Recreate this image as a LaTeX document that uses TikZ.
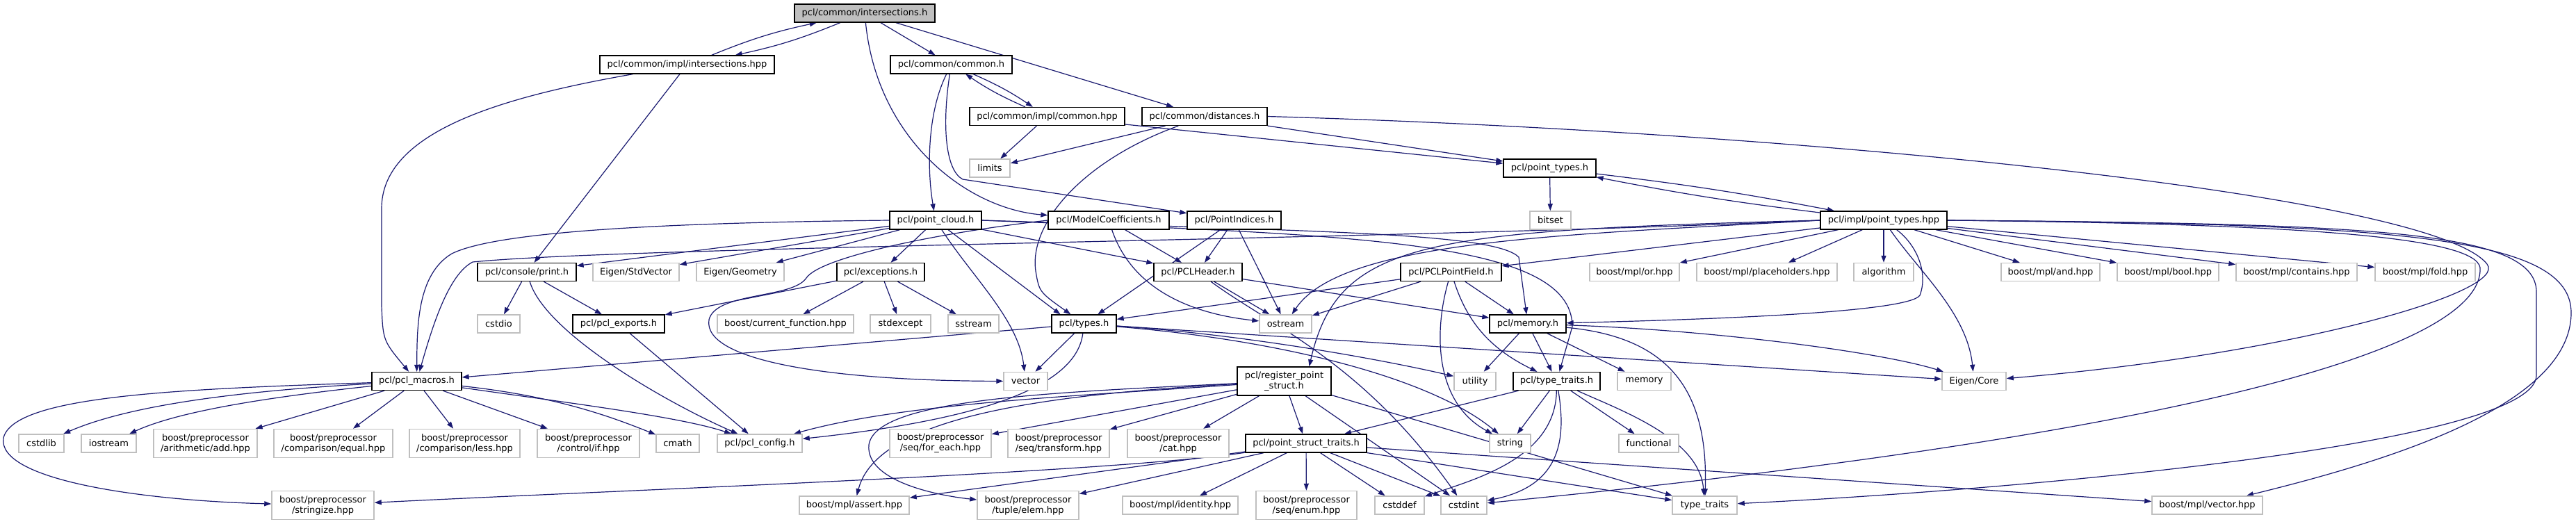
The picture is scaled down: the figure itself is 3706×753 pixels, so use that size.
\documentclass[tikz,border=0pt]{standalone}
\usepackage{fontspec}
\setmainfont{DejaVu Sans}
\usetikzlibrary{arrows.meta, backgrounds}
\definecolor{edgeblue}{HTML}{191970}
\definecolor{extgray}{HTML}{BFBFBF}

\begin{document}
\begin{tikzpicture}[x=1pt, y=-1pt,
  every node/.style={inner sep=0pt, align=center,
                     font=\fontsize{13}{15}\selectfont},
  hdr/.style={draw=black, line width=1.3pt, fill=white,
              minimum height=26pt, minimum width=#1pt},
  sys/.style={draw=extgray, line width=1.5pt, fill=white,
              minimum height=26pt, minimum width=#1pt},
  mainfile/.style={hdr=#1, fill=extgray},
  two/.style={minimum height=41pt},
  dep/.style={-{Triangle[length=10pt, width=7pt]}, draw=edgeblue,
              line width=1.2pt}]
\useasboundingbox (0,0) rectangle (3706,753);

% first rows
\node[mainfile=202] (I) at (1244,19) {pcl/common/intersections.h};
\node[hdr=251] (IH) at (988.5,93) {pcl/common/impl/intersections.hpp};
\node[hdr=175] (C) at (1368.5,93) {pcl/common/common.h};
\node[hdr=223] (CH) at (1506.5,167.5) {pcl/common/impl/common.hpp};
\node[hdr=180] (D) at (1733,167.5) {pcl/common/distances.h};
\node[sys=58] (LIM) at (1424,242) {limits};
\node[hdr=133] (PT) at (2229.5,242) {pcl/point\_types.h};
\node[sys=59] (BITS) at (2230.5,317) {bitset};
\node[hdr=132] (PC) at (1346,317) {pcl/point\_cloud.h};
\node[hdr=174] (MC) at (1595,317) {pcl/ModelCoefficients.h};
\node[hdr=135] (PI) at (1775.5,317) {pcl/PointIndices.h};
\node[hdr=182] (PTH) at (2710,317) {pcl/impl/point\_types.hpp};

\node[hdr=142] (PR) at (758,391.5) {pcl/console/print.h};
\node[sys=124] (ESV) at (915,391.5) {Eigen/StdVector};
\node[sys=126] (EG) at (1065,391.5) {Eigen/Geometry};
\node[hdr=126] (EX) at (1267,391.5) {pcl/exceptions.h};
\node[hdr=127] (PH) at (1723.5,391.5) {pcl/PCLHeader.h};
\node[hdr=145] (PF) at (2087.5,391.5) {pcl/PCLPointField.h};
\node[sys=129] (OR) at (2351.5,391.5) {boost/mpl/or.hpp};
\node[sys=202] (PLH) at (2542,391.5) {boost/mpl/placeholders.hpp};
\node[sys=86] (ALG) at (2710,391.5) {algorithm};
\node[sys=142] (AND) at (2950,391.5) {boost/mpl/and.hpp};
\node[sys=146] (BOOL) at (3119,391.5) {boost/mpl/bool.hpp};
\node[sys=174] (CONT) at (3304,391.5) {boost/mpl/contains.hpp};
\node[sys=144] (FOLD) at (3489,391.5) {boost/mpl/fold.hpp};

\node[sys=61] (CSTDIO) at (717.5,466) {cstdio};
\node[hdr=132] (EXP) at (890,466) {pcl/pcl\_exports.h};
\node[sys=196] (CF) at (1130,466) {boost/current\_function.hpp};
\node[sys=87] (SE) at (1295.5,466) {stdexcept};
\node[sys=73] (SS) at (1400.5,466) {sstream};
\node[hdr=93] (T) at (1559.5,466) {pcl/types.h};
\node[sys=75] (OS) at (1849.5,466) {ostream};
\node[hdr=110] (M) at (2198,466) {pcl/memory.h};

\node[hdr=129] (PM) at (599.5,548.5) {pcl/pcl\_macros.h};
\node[sys=63] (VEC) at (1475.5,548.5) {vector};
\node[hdr=135, two] (RPS) at (1847.5,548.5) {pcl/register\_point\\\_struct.h};
\node[sys=60] (UT) at (2122,548.5) {utility};
\node[hdr=125] (TT) at (2239.5,548.5) {pcl/type\_traits.h};
\node[sys=77] (MEM) at (2365.5,548.5) {memory};
\node[sys=92] (EC) at (2840,548.5) {Eigen/Core};

% lower rows
\node[sys=65] (CSTDLIB) at (59.5,638) {cstdlib};
\node[sys=79] (IOS) at (156.5,638) {iostream};
\node[sys=149, two] (ADD) at (295.5,638) {boost/preprocessor\\/arithmetic/add.hpp};
\node[sys=171, two] (EQ) at (479.5,638) {boost/preprocessor\\/comparison/equal.hpp};
\node[sys=159, two] (LESS) at (668.5,638) {boost/preprocessor\\/comparison/less.hpp};
\node[sys=147, two] (IF) at (846.5,638) {boost/preprocessor\\/control/if.hpp};
\node[sys=62] (CMATH) at (975,638) {cmath};
\node[sys=122] (CFG) at (1093,638) {pcl/pcl\_config.h};
\node[sys=146, two] (FE) at (1353,638) {boost/preprocessor\\/seq/for\_each.hpp};
\node[sys=146, two] (TR) at (1523,638) {boost/preprocessor\\/seq/transform.hpp};
\node[sys=146, two] (CAT) at (1695,638) {boost/preprocessor\\/cat.hpp};
\node[hdr=174] (PST) at (1879,638) {pcl/point\_struct\_traits.h};
\node[sys=59] (STR) at (2172.5,638) {string};
\node[sys=86] (FUN) at (2372,638) {functional};

\node[sys=147, two] (STRZ) at (464.5,727) {boost/preprocessor\\/stringize.hpp};
\node[sys=158] (ASRT) at (1229,727) {boost/mpl/assert.hpp};
\node[sys=146, two] (ELEM) at (1479,727) {boost/preprocessor\\/tuple/elem.hpp};
\node[sys=166] (IDN) at (1698,727) {boost/mpl/identity.hpp};
\node[sys=145, two] (ENUM) at (1879.5,727) {boost/preprocessor\\/seq/enum.hpp};
\node[sys=71] (CDEF) at (2013.5,727) {cstddef};
\node[sys=66] (CINT) at (2106,727) {cstdint};
\node[sys=93] (TYT) at (2452.5,727) {type\_traits};
\node[sys=159] (MPLV) at (3175.5,727) {boost/mpl/vector.hpp};

\begin{scope}[on background layer]
\fill[white] (0,0) rectangle (3706,753);
% intersections
\draw[dep, bend left=5] (I) to (IH);
\draw[dep, bend left=5] (IH) to (I);
\draw[dep] (I) -- (C);
\draw[dep] (I) -- (D);
\draw[dep] (I) .. controls (1262,200) and (1390,300) .. (MC);
\draw[dep] (IH) .. controls (720,140) and (549,190) .. (549,300) -- (549,440) .. controls (551,490) .. (PM);
\draw[dep] (IH) -- (PR);
% common
\draw[dep, bend left=5] (C) to (CH);
\draw[dep, bend left=5] (CH) to (C);
\draw[dep] (C) .. controls (1335,160) and (1333,240) .. (PC);
\draw[dep] (C) .. controls (1355,180) and (1360,245) .. (1385,258) -- (PI);
\draw[dep] (CH) -- (LIM);
\draw[dep] (CH) -- (PT);
\draw[dep] (D) -- (LIM);
\draw[dep] (D) -- (PT);
\draw[dep] (D) .. controls (1560,230) and (1480,320) .. (1490,390) .. controls (1495,420) .. (T);
\draw[dep] (D.east) .. controls (2600,190) and (3500,280) .. (3578,380) .. controls (3610,420) and (3300,510) .. (EC);
\draw[dep] (PT) -- (BITS);
\draw[dep, bend left=2] (PT) to (PTH);
\draw[dep, bend left=2] (PTH) to (PT);
% point cloud
\draw[dep] (PC) -- (PR);
\draw[dep] (PC) -- (ESV);
\draw[dep] (PC) -- (EG);
\draw[dep] (PC) -- (EX);
\draw[dep] (PC.west) .. controls (1000,320) and (720,330) .. (650,365) .. controls (600,395) and (600,470) .. (PM);
\draw[dep] (PC) -- (PH);
\draw[dep] (PC) -- ([xshift=-34pt]T.north);
\draw[dep] (PC) .. controls (1400,400) and (1465,460) .. (VEC);
\draw[dep] (PC.east) .. controls (1900,333) and (2150,335) .. (2185,370) -- (M);
\draw[dep] (PC.east) .. controls (1950,338) and (2262,345) .. (2262,470) -- (TT);
\draw[dep] (MC) -- (PH);
\draw[dep] (MC) .. controls (1630,420) and (1720,452) .. (OS);
\draw[dep] (MC.west) .. controls (1350,335) and (1180,370) .. (1160,400) .. controls (1140,430) and (1030,420) .. (1020,460) .. controls (1010,520) and (1200,548) .. (VEC);
\draw[dep] (PI) -- (PH);
\draw[dep] (PI) -- (T);
\draw[dep] (PI) -- (OS);
\draw[dep] (PH) -- (OS);
\draw[dep] (PH) -- (M);
\draw[dep] (PH) .. controls (1830,470) and (1960,520) .. (CINT);
\draw[dep] (PF) -- (T);
\draw[dep] (PF) -- (OS);
\draw[dep] (PF) -- (M);
\draw[dep] (PF) .. controls (2110,460) and (2140,500) .. (TT);
\draw[dep] (PF) .. controls (2062,480) and (2065,580) .. (STR);
% impl/point_types.hpp
\draw[dep] (PTH.west) .. controls (2000,345) and (900,355) .. (680,377) .. controls (645,395) and (622,470) .. (PM);
\draw[dep] (PTH.west) .. controls (2250,338) and (1930,345) .. (OS);
\draw[dep] (PTH.west) .. controls (2050,332) and (1925,345) .. ([xshift=36pt]RPS.north);
\draw[dep] (PTH) -- (PF);
\draw[dep] (PTH) -- (OR);
\draw[dep] (PTH) -- (PLH);
\draw[dep] (PTH) -- (ALG);
\draw[dep] (PTH) -- (AND);
\draw[dep] (PTH) -- (BOOL);
\draw[dep] (PTH) -- (CONT);
\draw[dep] (PTH) -- (FOLD);
\draw[dep] (PTH) .. controls (2755,350) and (2775,390) .. (2762,425) .. controls (2745,450) and (2450,460) .. (M);
\draw[dep] (PTH) .. controls (2760,390) and (2830,450) .. (EC);
\draw[dep] (PTH.east) .. controls (3300,322) and (3560,340) .. (3568,385) .. controls (3575,520) and (3000,640) .. (CINT);
\draw[dep] (PTH.east) .. controls (3400,322) and (3649,330) .. (3649,420) -- (3649,540) .. controls (3649,640) and (2900,705) .. (TYT);
\draw[dep] (PTH.east) .. controls (3450,322) and (3699,340) .. (3699,450) .. controls (3699,580) and (3450,660) .. (MPLV);
% memory, type traits
\draw[dep] (M) -- (UT);
\draw[dep] (M) -- (TT);
\draw[dep] (M) -- (MEM);
\draw[dep] (M) .. controls (2450,474) and (2700,505) .. (EC);
\draw[dep] (M) .. controls (2400,485) and (2458,560) .. (TYT);
\draw[dep] (TT) -- (PST);
\draw[dep] (TT) -- (STR);
\draw[dep] (TT) -- (FUN);
\draw[dep] (TT) .. controls (2238,660) and (2120,690) .. (CDEF);
\draw[dep] (TT) .. controls (2255,640) and (2240,700) .. (CINT);
\draw[dep] (TT) .. controls (2330,590) and (2445,630) .. (TYT);
% types
\draw[dep] (T) -- (PM);
\draw[dep] (T) -- (VEC);
\draw[dep] (T) .. controls (1548,560) and (1400,605) .. (CFG);
\draw[dep] (T) -- (EC);
\draw[dep] (T) .. controls (1800,482) and (2000,520) .. (UT);
\draw[dep] (T) .. controls (1850,490) and (2060,545) .. (STR);
% register_point_struct
\draw[dep] (RPS) -- (FE);
\draw[dep] (RPS) -- (TR);
\draw[dep] (RPS) -- (CAT);
\draw[dep] (RPS) -- (PST);
\draw[dep] (RPS) -- (CINT);
\draw[dep] (RPS) -- (TYT);
\draw[dep] (RPS) .. controls (1550,570) and (1300,580) .. (CFG);
\draw[dep] (RPS) .. controls (1500,565) and (1260,575) .. (1250,640) .. controls (1245,690) and (1340,712) .. (ELEM);
\draw[dep] (RPS) .. controls (1500,568) and (1262,600) .. (ASRT);
% point_struct_traits
\draw[dep] (PST) .. controls (1600,680) and (900,705) .. (STRZ);
\draw[dep] (PST) -- (ASRT);
\draw[dep] (PST) -- (ELEM);
\draw[dep] (PST) -- (IDN);
\draw[dep] (PST) -- (ENUM);
\draw[dep] (PST) -- (CDEF);
\draw[dep] (PST) -- (CINT);
\draw[dep] (PST) -- (TYT);
\draw[dep] (PST) -- (MPLV);
% exceptions, print
\draw[dep] (EX) -- (EXP);
\draw[dep] (EX) -- (CF);
\draw[dep] (EX) -- (SE);
\draw[dep] (EX) -- (SS);
\draw[dep] (PR) -- (CSTDIO);
\draw[dep] (PR) -- (EXP);
\draw[dep] (PR) .. controls (785,480) and (960,580) .. (CFG);
\draw[dep] (EXP) -- (CFG);
% pcl_macros
\draw[dep] (PM) .. controls (300,565) and (170,590) .. (CSTDLIB);
\draw[dep] (PM) .. controls (400,570) and (260,590) .. (IOS);
\draw[dep] (PM) -- (ADD);
\draw[dep] (PM) -- (EQ);
\draw[dep] (PM) -- (LESS);
\draw[dep] (PM) -- (IF);
\draw[dep] (PM) .. controls (800,570) and (880,600) .. (CMATH);
\draw[dep] (PM) .. controls (820,580) and (980,600) .. (CFG);
\draw[dep] (PM) .. controls (250,560) and (20,570) .. (5,630) .. controls (-5,690) and (200,720) .. (STRZ);
\end{scope}
\end{tikzpicture}
\end{document}
